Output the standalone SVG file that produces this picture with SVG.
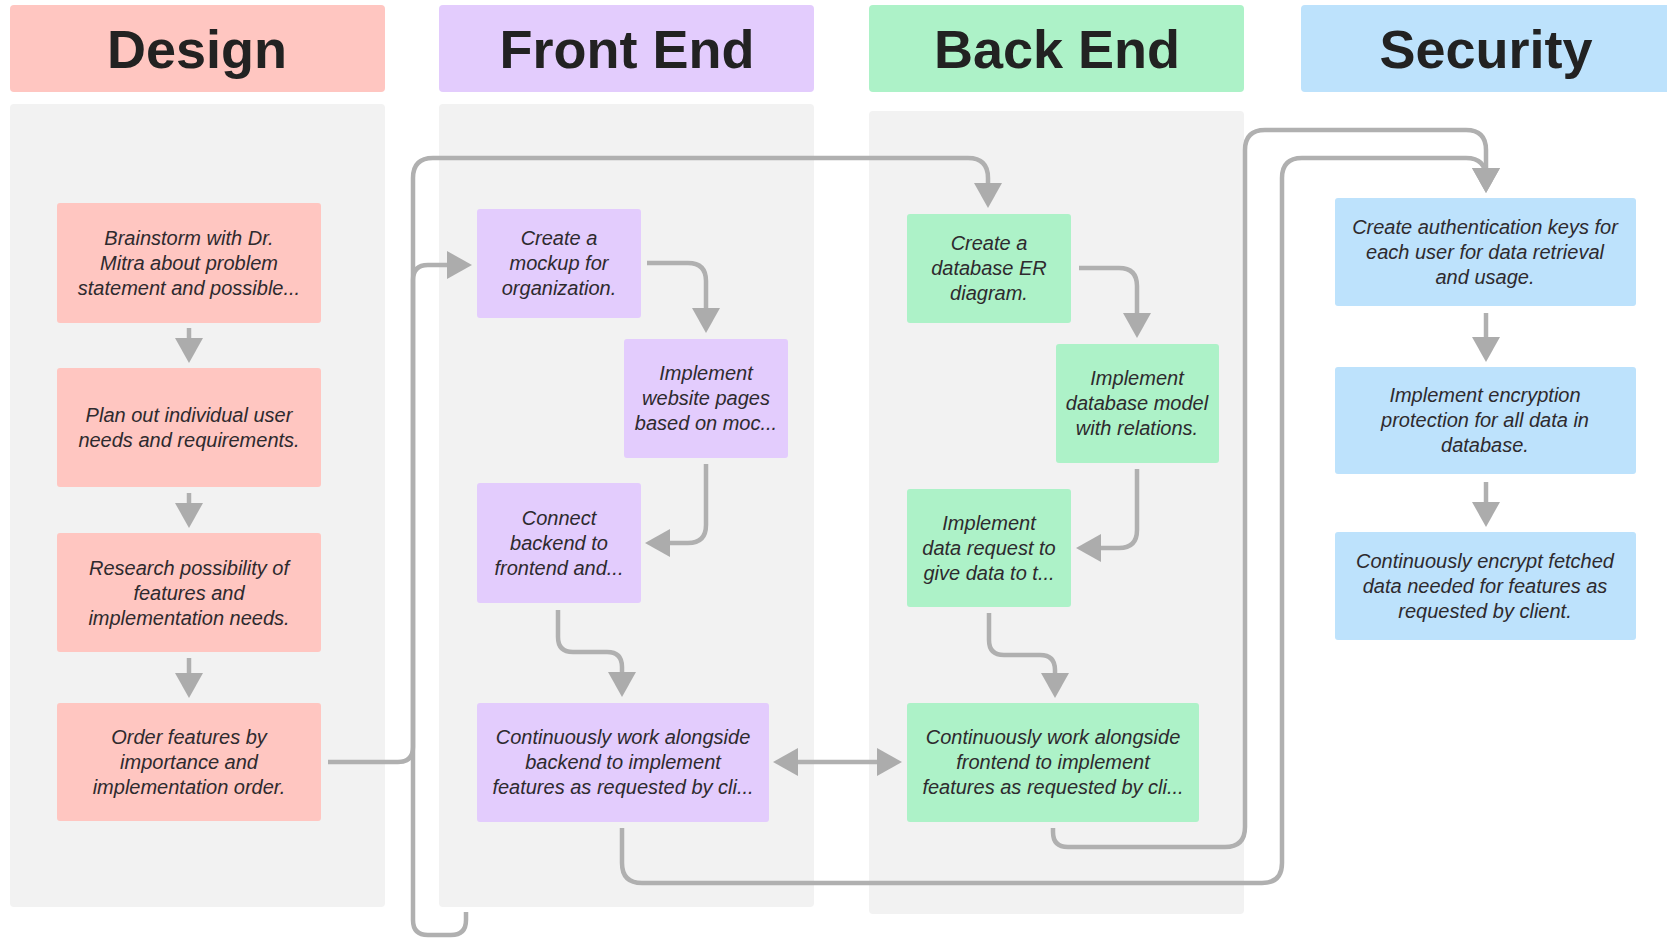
<svg xmlns="http://www.w3.org/2000/svg" width="1667" height="940" viewBox="0 0 1667 940">
<defs>
<style>
.lane{fill:#f2f2f2}
.hdr{font-family:"Liberation Sans",Arial,sans-serif;font-weight:700;font-size:54px;fill:#222;text-anchor:middle}
.txt{font-family:"Liberation Sans",Arial,sans-serif;font-style:italic;font-size:20px;fill:#2e2a2e;text-anchor:middle}
.d{fill:#ffc6c1}
.f{fill:#e3ccfd}
.b{fill:#adf2c8}
.s{fill:#bde2fc}
.c{fill:none;stroke:#b0b0b0;stroke-width:4.5;marker-end:url(#ah)}
.bi{marker-start:url(#ah)}
</style>
<marker id="ah" viewBox="0 0 25 28" markerWidth="25" markerHeight="28" refX="15" refY="14" markerUnits="userSpaceOnUse" orient="auto-start-reverse">
<path d="M0,0 L25,14 L0,28 z" fill="#acacac"/>
</marker>
</defs>
<rect width="1667" height="940" fill="#ffffff"/>
<g id="lanes">
<rect class="lane" x="10" y="104" width="375" height="803" rx="4"/>
<rect class="lane" x="439" y="104" width="375" height="803" rx="4"/>
<rect class="lane" x="869" y="111" width="375" height="803" rx="4"/>
</g>
<g id="headers">
<g id="hdr-design"><rect class="d" x="10" y="5" width="375" height="87" rx="4"/><text class="hdr" x="197" y="68">Design</text></g>
<g id="hdr-frontend"><rect class="f" x="439" y="5" width="375" height="87" rx="4"/><text class="hdr" x="627" y="68">Front End</text></g>
<g id="hdr-backend"><rect class="b" x="869" y="5" width="375" height="87" rx="4"/><text class="hdr" x="1057" y="68">Back End</text></g>
<g id="hdr-security"><rect class="s" x="1301" y="5" width="375" height="87" rx="4"/><text class="hdr" x="1486" y="68">Security</text></g>
</g>
<g id="connectors">
<path class="c" d="M189 328 V353"/>
<path class="c" d="M189 493 V518"/>
<path class="c" d="M189 658 V688"/>
<path class="c" d="M328 762 H398 Q413 762 413 747 V280 Q413 265 428 265 H462"/>
<path class="c" d="M466 912 V920 Q466 935 451 935 H428 Q413 935 413 920 V178 Q413 158 433 158 H968 Q988 158 988 178 V198"/>
<path class="c" d="M647 263 H688 Q706 263 706 281 V323"/>
<path class="c" d="M706 464 V525 Q706 543 688 543 H655"/>
<path class="c" d="M558 610 V637 Q558 652 573 652 H607 Q622 652 622 667 V687"/>
<path class="c bi" d="M783 762 H892"/>
<path class="c" d="M1079 268 H1119 Q1137 268 1137 286 V328"/>
<path class="c" d="M1137 469 V530 Q1137 548 1119 548 H1086"/>
<path class="c" d="M989 613 V640 Q989 655 1004 655 H1040 Q1055 655 1055 670 V688"/>
<path class="c" d="M1053 828 V832 Q1053 847 1068 847 H1225 Q1245 847 1245 827 V150 Q1245 130 1265 130 H1466 Q1486 130 1486 150 V183"/>
<path class="c" d="M622 828 V863 Q622 883 642 883 H1262 Q1282 883 1282 863 V178 Q1282 158 1302 158 H1466 Q1486 158 1486 178 V183"/>
<path class="c" d="M1486 313 V352"/>
<path class="c" d="M1486 482 V517"/>
</g>
<g id="n-brainstorm"><rect class="d" x="57" y="203" width="264" height="120" rx="3"/><text class="txt" x="189" y="245">Brainstorm with Dr.</text><text class="txt" x="189" y="270">Mitra about problem</text><text class="txt" x="189" y="295">statement and possible...</text></g>
<g id="n-plan"><rect class="d" x="57" y="368" width="264" height="119" rx="3"/><text class="txt" x="189" y="422">Plan out individual user</text><text class="txt" x="189" y="447">needs and requirements.</text></g>
<g id="n-research"><rect class="d" x="57" y="533" width="264" height="119" rx="3"/><text class="txt" x="189" y="575">Research possibility of</text><text class="txt" x="189" y="600">features and</text><text class="txt" x="189" y="625">implementation needs.</text></g>
<g id="n-order"><rect class="d" x="57" y="703" width="264" height="118" rx="3"/><text class="txt" x="189" y="744">Order features by</text><text class="txt" x="189" y="769">importance and</text><text class="txt" x="189" y="794">implementation order.</text></g>
<g id="n-mockup"><rect class="f" x="477" y="209" width="164" height="109" rx="3"/><text class="txt" x="559" y="245">Create a</text><text class="txt" x="559" y="270">mockup for</text><text class="txt" x="559" y="295">organization.</text></g>
<g id="n-pages"><rect class="f" x="624" y="339" width="164" height="119" rx="3"/><text class="txt" x="706" y="380">Implement</text><text class="txt" x="706" y="405">website pages</text><text class="txt" x="706" y="430">based on moc...</text></g>
<g id="n-connect"><rect class="f" x="477" y="483" width="164" height="120" rx="3"/><text class="txt" x="559" y="525">Connect</text><text class="txt" x="559" y="550">backend to</text><text class="txt" x="559" y="575">frontend and...</text></g>
<g id="n-fe-cont"><rect class="f" x="477" y="703" width="292" height="119" rx="3"/><text class="txt" x="623" y="744">Continuously work alongside</text><text class="txt" x="623" y="769">backend to implement</text><text class="txt" x="623" y="794">features as requested by cli...</text></g>
<g id="n-er"><rect class="b" x="907" y="214" width="164" height="109" rx="3"/><text class="txt" x="989" y="250">Create a</text><text class="txt" x="989" y="275">database ER</text><text class="txt" x="989" y="300">diagram.</text></g>
<g id="n-model"><rect class="b" x="1056" y="344" width="163" height="119" rx="3"/><text class="txt" x="1137" y="385">Implement</text><text class="txt" x="1137" y="410">database model</text><text class="txt" x="1137" y="435">with relations.</text></g>
<g id="n-datareq"><rect class="b" x="907" y="489" width="164" height="118" rx="3"/><text class="txt" x="989" y="530">Implement</text><text class="txt" x="989" y="555">data request to</text><text class="txt" x="989" y="580">give data to t...</text></g>
<g id="n-be-cont"><rect class="b" x="907" y="703" width="292" height="119" rx="3"/><text class="txt" x="1053" y="744">Continuously work alongside</text><text class="txt" x="1053" y="769">frontend to implement</text><text class="txt" x="1053" y="794">features as requested by cli...</text></g>
<g id="n-auth"><rect class="s" x="1335" y="198" width="301" height="108" rx="3"/><text class="txt" x="1485" y="234">Create authentication keys for</text><text class="txt" x="1485" y="259">each user for data retrieval</text><text class="txt" x="1485" y="284">and usage.</text></g>
<g id="n-encrypt"><rect class="s" x="1335" y="367" width="301" height="107" rx="3"/><text class="txt" x="1485" y="402">Implement encryption</text><text class="txt" x="1485" y="427">protection for all data in</text><text class="txt" x="1485" y="452">database.</text></g>
<g id="n-cont-encrypt"><rect class="s" x="1335" y="532" width="301" height="108" rx="3"/><text class="txt" x="1485" y="568">Continuously encrypt fetched</text><text class="txt" x="1485" y="593">data needed for features as</text><text class="txt" x="1485" y="618">requested by client.</text></g>
</svg>
